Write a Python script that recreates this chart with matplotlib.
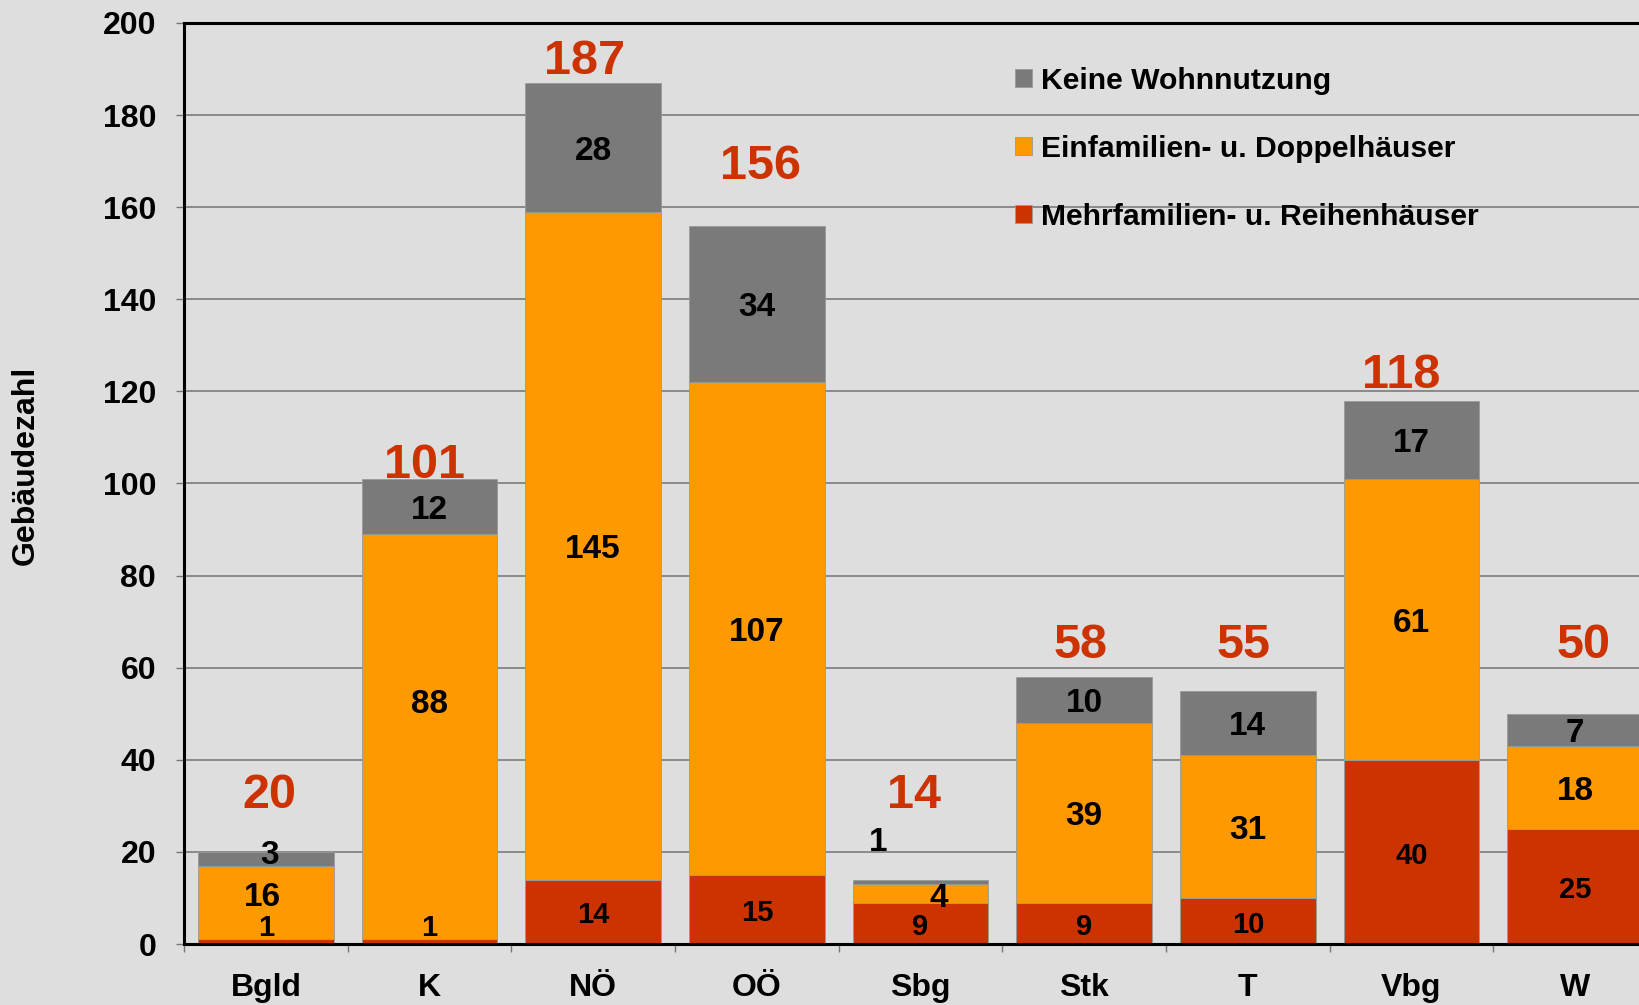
import matplotlib
matplotlib.use("Agg")
import matplotlib.pyplot as plt
import numpy as np

plt.rcParams['font.family'] = ['Liberation Sans', 'DejaVu Sans']
plt.rcParams['font.weight'] = 'bold'

# data
regions = ["Bgld", "K", "NÖ", "OÖ", "Sbg", "Stk", "T", "Vbg", "W"]
mehrfamilien = [1, 1, 14, 15, 9, 9, 10, 40, 25]
einfamilien = [16, 88, 145, 107, 4, 39, 31, 61, 18]
keine_wohnnutzung = [3, 12, 28, 34, 1, 10, 14, 17, 7]
series_names = ["Mehrfamilien- u. Reihenhäuser",
                "Einfamilien- u. Doppelhäuser",
                "Keine Wohnnutzung"]

# layout tweaks (label placement like in the original sheet)
total_lift = [13, 3.7, 5.5, 13.6, 19, 7.6, 10.6, 6.2, 15.6]
total_shift = [0.02, -0.03, -0.05, 0.025, -0.04, -0.025, -0.025, -0.06, 0.05]
label_nudge = {(0, 0): (0, 3.8), (1, 0): (0, 3.8), (0, 1): (-0.02, 1.9),
               (0, 2): (0.02, 1.5), (1, 1): (0, 7.9),
               (4, 2): (-0.26, 9.4), (4, 1): (0.11, -0.3)}
text_drop = 0.8  # va='center' sits a bit high for digits

bg = "#dedede"
colors = ["#cc3300", "#ff9900", "#7a7a7a"]
total_color = "#cc3300"

fig = plt.figure(figsize=(16.4, 10.05), dpi=100, facecolor=bg)
ax = fig.add_axes([184 / 1640, 61 / 1005, 1473 / 1640, 921 / 1005])
ax.set_facecolor(bg)

x = np.arange(len(regions))
stack = [mehrfamilien, einfamilien, keine_wohnnutzung]
bottom = np.zeros(len(regions))
bars = []
for i, vals in enumerate(stack):
    b = ax.bar(x, vals, width=0.83, bottom=bottom, color=colors[i],
               edgecolor="#9a9a9a", linewidth=0.6, zorder=2, label=series_names[i])
    bars.append(b)
    for j, v in enumerate(vals):
        dx, dy = label_nudge.get((j, i), (0, 0))
        fs = 21 if i == 0 else 24
        ax.text(x[j] + dx, bottom[j] + v / 2 + dy - text_drop, str(v), ha='center', va='center',
                fontsize=fs, fontweight='bold', color='black', zorder=3)
    bottom = bottom + np.array(vals)

totals = bottom
for j, t in enumerate(totals):
    ax.text(x[j] + total_shift[j], t + total_lift[j] - text_drop, str(int(t)),
            ha='center', va='center', fontsize=35, fontweight='bold',
            color=total_color, zorder=3)

ax.set_xlim(-0.5, len(regions) - 0.5)
ax.set_ylim(0, 200)
ax.set_yticks(np.arange(0, 201, 20))
ax.yaxis.grid(True, color="#8a8a8a", linewidth=1.4, zorder=0)
ax.set_axisbelow(True)

ax.set_xticks(x)
ax.set_xticklabels(regions, fontsize=23, fontweight='bold')
ax.set_xticks(np.arange(-0.5, len(regions) + 0.5, 1), minor=True)
ax.tick_params(axis='x', which='major', length=0, pad=21)
ax.tick_params(axis='x', which='minor', length=6, width=1, color="#777777", direction='out')
ax.tick_params(axis='y', length=6, width=1, color="#777777", pad=14, labelsize=23)
for lab in ax.get_yticklabels():
    lab.set_fontweight('bold')

for side in ['left', 'bottom', 'top']:
    ax.spines[side].set_linewidth(2.2)
    ax.spines[side].set_color('black')
ax.spines['right'].set_visible(False)

ax.set_ylabel("Gebäudezahl", fontsize=23, fontweight='bold')
ax.yaxis.set_label_coords(-0.097, 0.52)

leg = ax.legend(handles=bars[::-1], loc='upper left', bbox_to_anchor=(1015 / 1640, 1 - 67 / 1005),
                bbox_transform=fig.transFigure, frameon=False, fontsize=21.7,
                handlelength=0.55, handleheight=0.55, handletextpad=0.3, labelspacing=1.32,
                borderaxespad=0, borderpad=0)
for txt in leg.get_texts():
    txt.set_fontweight('bold')

fig.savefig("out.png", dpi=100, facecolor=bg)
